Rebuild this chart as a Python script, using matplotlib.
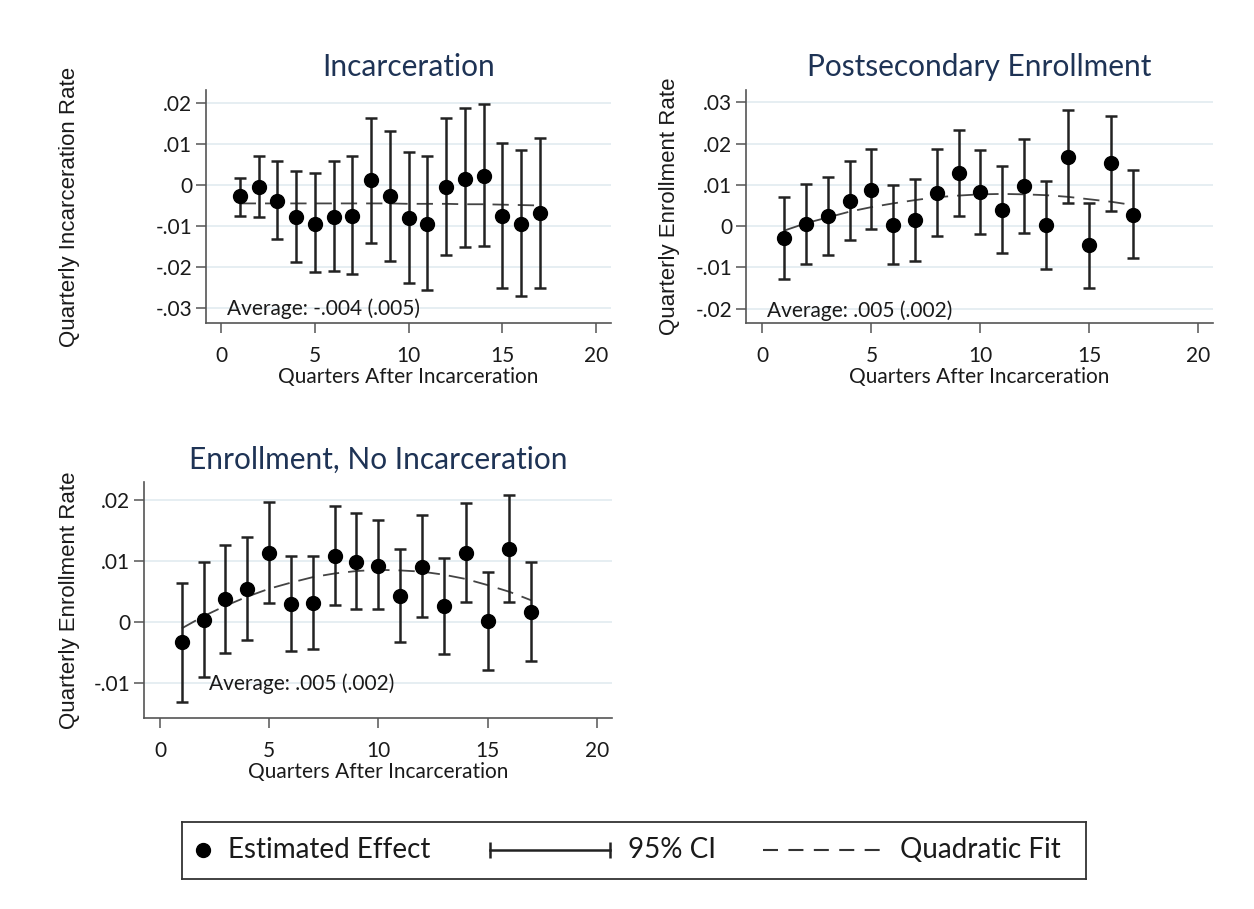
import matplotlib
matplotlib.use("Agg")
import matplotlib.pyplot as plt
from matplotlib.ticker import FuncFormatter

# quarters after incarceration
quarters = list(range(1, 18))

# Incarceration
inc_est = [-0.0028, -0.0004, -0.0038, -0.0077, -0.0095, -0.0077, -0.0075, 0.0011, -0.0027,
           -0.0081, -0.0095, -0.0004, 0.0015, 0.0022, -0.0075, -0.0095, -0.0069]
inc_hi = [0.0016, 0.0071, 0.0059, 0.0034, 0.0028, 0.0059, 0.0071, 0.0162, 0.0131,
          0.0081, 0.0071, 0.0164, 0.0187, 0.0196, 0.0101, 0.0085, 0.0115]
inc_lo = [-0.0075, -0.0079, -0.0132, -0.0187, -0.0213, -0.0209, -0.0217, -0.0142, -0.0185,
          -0.0239, -0.0255, -0.0170, -0.0152, -0.0148, -0.0250, -0.0270, -0.0252]
inc_fit = [-0.0045, -0.0045, -0.0045, -0.0045, -0.0045, -0.0045, -0.0045, -0.0045, -0.0045,
           -0.0046, -0.0046, -0.0046, -0.0047, -0.0047, -0.0048, -0.0049, -0.0050]

# Postsecondary Enrollment
enr_est = [-0.0030, 0.0005, 0.0024, 0.0061, 0.0087, 0.0002, 0.0015, 0.0081, 0.0128,
           0.0083, 0.0039, 0.0097, 0.0002, 0.0168, -0.0046, 0.0152, 0.0028]
enr_hi = [0.0070, 0.0102, 0.0120, 0.0159, 0.0186, 0.0099, 0.0113, 0.0186, 0.0233,
          0.0184, 0.0146, 0.0210, 0.0109, 0.0282, 0.0057, 0.0268, 0.0136]
enr_lo = [-0.0129, -0.0091, -0.0070, -0.0034, -0.0008, -0.0092, -0.0085, -0.0023, 0.0024,
          -0.0018, -0.0066, -0.0016, -0.0103, 0.0055, -0.0151, 0.0037, -0.0078]
enr_fit = [-0.0011, 0.0007, 0.0021, 0.0035, 0.0046, 0.0055, 0.0063, 0.0070, 0.0074,
           0.0077, 0.0078, 0.0077, 0.0075, 0.0071, 0.0065, 0.0059, 0.0051]

# Enrollment, No Incarceration
noinc_est = [-0.0034, 0.0003, 0.0037, 0.0054, 0.0113, 0.0029, 0.0031, 0.0108, 0.0097,
             0.0092, 0.0042, 0.0090, 0.0026, 0.0113, 0.0001, 0.0119, 0.0016]
noinc_hi = [0.0063, 0.0097, 0.0125, 0.0138, 0.0196, 0.0107, 0.0108, 0.0190, 0.0178,
            0.0166, 0.0119, 0.0175, 0.0105, 0.0194, 0.0082, 0.0207, 0.0097]
noinc_lo = [-0.0132, -0.0090, -0.0052, -0.0030, 0.0031, -0.0048, -0.0045, 0.0027, 0.0021,
            0.0020, -0.0034, 0.0007, -0.0053, 0.0032, -0.0079, 0.0032, -0.0064]
noinc_fit = [-0.0011, 0.0009, 0.0026, 0.0041, 0.0054, 0.0064, 0.0073, 0.0079, 0.0083,
             0.0085, 0.0084, 0.0082, 0.0077, 0.0070, 0.0060, 0.0049, 0.0035]

xticks = [0, 5, 10, 15, 20]
W, H = 1254, 909

title_col = "#1e3355"
grid_col = "#e4edf1"
spine_col = "#555555"
txt_col = "#1a1a1a"
bar_col = "#222222"


def box(l, t, r, b):
    return [l / W, 1 - b / H, (r - l) / W, (b - t) / H]


def fmt(v, pos):
    if abs(v) < 1e-9:
        return "0"
    s = "%.2f" % v
    return s.replace("0.", ".")


def panel(rect, title, ylabel, est, lo, hi, fit, xlim, ylim, yticks, avg_txt, avg_xy, ylab_x, tpad):
    ax = fig.add_axes(box(*rect))
    ax.plot(quarters, fit, color="#444444", lw=1.3, ls=(0, (9, 5)), zorder=2)
    yerr = [[e - l for e, l in zip(est, lo)], [h - e for e, h in zip(est, hi)]]
    ax.errorbar(quarters, est, yerr=yerr, fmt="o", color="black", ms=10,
                ecolor=bar_col, elinewidth=1.8, capsize=4.5, capthick=1.8, zorder=3)
    ax.set_xlim(*xlim)
    ax.set_ylim(*ylim)
    ax.set_xticks(xticks)
    ax.set_yticks(yticks)
    ax.yaxis.set_major_formatter(FuncFormatter(fmt))
    ax.yaxis.grid(True, color=grid_col, lw=1.3)
    ax.set_axisbelow(True)
    for s in ["top", "right"]:
        ax.spines[s].set_visible(False)
    for s in ["left", "bottom"]:
        ax.spines[s].set_color(spine_col)
        ax.spines[s].set_linewidth(1.2)
    ax.tick_params(axis="both", direction="out", length=7, width=1.1, color=spine_col,
                   labelsize=15, labelcolor=txt_col)
    ax.tick_params(axis="x", pad=9.5)
    ax.tick_params(axis="y", pad=3)
    ax.set_title(title, fontsize=21.5, color=title_col, pad=tpad)
    ax.set_xlabel("Quarters After Incarceration", fontsize=15, color=txt_col, labelpad=0.5)
    ax.set_ylabel(ylabel, fontsize=16, color=txt_col, family="Liberation Sans")
    ax.yaxis.set_label_coords(ylab_x, 0.5)
    ax.text(avg_xy[0], avg_xy[1], avg_txt, fontsize=15, color=txt_col, ha="left", va="center")
    return ax


plt.rcParams["font.family"] = ["Lato", "DejaVu Sans"]
fig = plt.figure(figsize=(W / 100, H / 100), dpi=100)
fig.patch.set_facecolor("white")

panel((206, 90, 611, 323), "Incarceration", "Quarterly Incarceration Rate",
      inc_est, inc_lo, inc_hi, inc_fit, (-0.8, 20.8), (-0.0336, 0.0231),
      [-0.03, -0.02, -0.01, 0, 0.01, 0.02], "Average: -.004 (.005)", (0.3, -0.03), -0.311, 10)

panel((746, 90, 1213, 323), "Postsecondary Enrollment", "Quarterly Enrollment Rate",
      enr_est, enr_lo, enr_hi, enr_fit, (-0.75, 20.67), (-0.0235, 0.0330),
      [-0.02, -0.01, 0, 0.01, 0.02, 0.03], "Average: .005 (.002)", (0.2, -0.0204), -0.141, 10)

panel((144, 482, 612, 718), "Enrollment, No Incarceration", "Quarterly Enrollment Rate",
      noinc_est, noinc_lo, noinc_hi, noinc_fit, (-0.73, 20.7), (-0.0158, 0.0229),
      [-0.01, 0, 0.01, 0.02], "Average: .005 (.002)", (2.25, -0.0101), -0.137, 9.4)

# legend box drawn by hand so the spacing matches
lg = fig.add_axes(box(182, 822, 1086, 879))
lg.set_xlim(182, 1086)
lg.set_ylim(879, 822)
lg.set_xticks([])
lg.set_yticks([])
for s in lg.spines.values():
    s.set_color("#333333")
    s.set_linewidth(1.3)
lg.plot([203], [850], "o", color="black", ms=10)
lg.text(228, 850, "Estimated Effect", fontsize=20, color=txt_col, va="center")
lg.plot([490, 610], [850, 850], color=bar_col, lw=1.8, marker="|", ms=12, mew=1.8)
lg.text(628, 850, "95% CI", fontsize=20, color=txt_col, va="center")
lg.plot([763, 880], [850, 850], color="#333333", lw=1.5, ls=(0, (7.2, 5.0)))
lg.text(900, 850, "Quadratic Fit", fontsize=20, color=txt_col, va="center")

fig.savefig("out.png", dpi=100, facecolor="white")
